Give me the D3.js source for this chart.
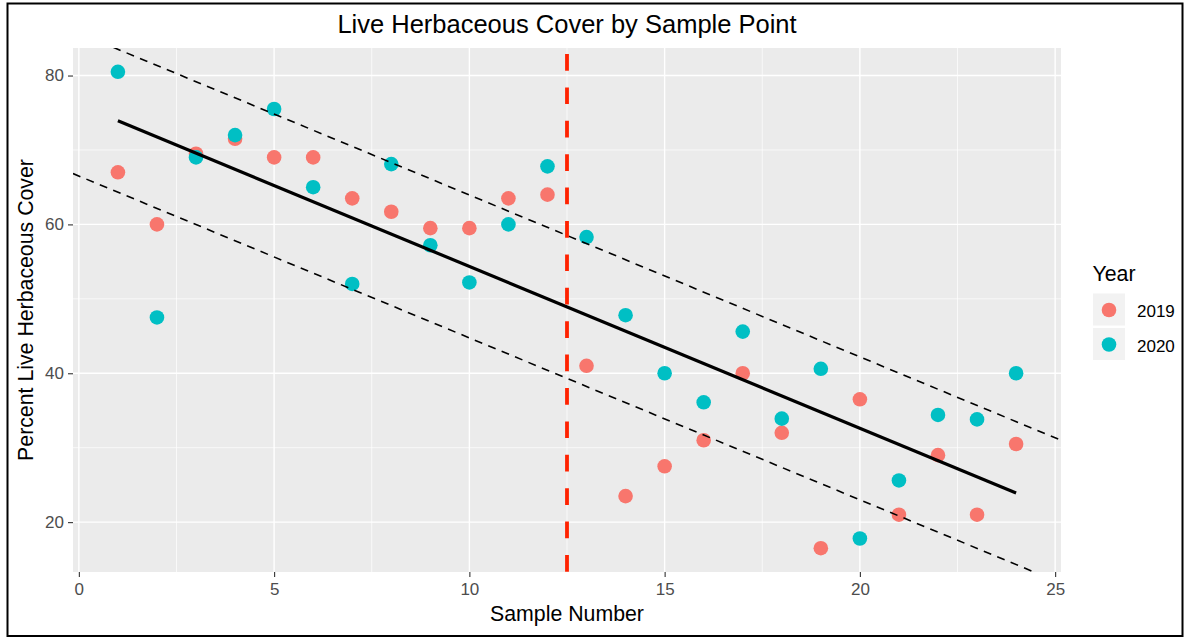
<!DOCTYPE html>
<html>
<head>
<meta charset="utf-8">
<script src="https://cdn.jsdelivr.net/npm/d3@7"></script>
<style>
  html, body { margin: 0; padding: 0; background: #fff; }
  svg { display: block; font-family: "Liberation Sans", Arial, Helvetica, sans-serif; }
</style>
</head>
<body>
<svg id="chart" width="1184" height="638"></svg>
<script>
// ---- data ----
const sampleNumbers = [1,2,3,4,5,6,7,8,9,10,11,12,13,14,15,16,17,18,19,20,21,22,23,24];
const cover2019 = [67,60,69.5,71.5,69,69,63.5,61.7,59.5,59.5,63.5,64,41,23.5,27.5,31,40,32,16.5,36.5,21,29,21,30.5];
const cover2020 = [80.5,47.5,69,72,75.5,65,52,68.1,57.2,52.2,60,67.8,58.3,47.8,40,36.1,45.6,33.9,40.6,17.8,25.6,34.4,33.8,40];
const years = ["2019", "2020"];
const xTicks = [0, 5, 10, 15, 20, 25];
const yTicks = [20, 40, 60, 80];
const xMinor = [2.5, 7.5, 12.5, 17.5, 22.5];
const yMinor = [30, 50, 70];
const bandOffset = 9.6;      // offset of the dashed band lines from the fit
const breakPoint = 12.5;     // red vertical reference line

const titleText = "Live Herbaceous Cover by Sample Point";
const xTitle = "Sample Number";
const yTitle = "Percent Live Herbaceous Cover";
const legendTitle = "Year";
const colors = ["#F8766D", "#00BFC4"];

// ---- layout ----
const panel = { left: 73, right: 1061, top: 48, bottom: 572 };
const svg = d3.select("#chart");

// long-format points
const points = [];
years.forEach((yr, i) => {
  const vals = i === 0 ? cover2019 : cover2020;
  sampleNumbers.forEach((s, j) => points.push({ x: s, y: vals[j], year: yr }));
});

// scales with ggplot-like 5% expansion
const xExt = d3.extent(sampleNumbers);
const yExt = d3.extent(points, d => d.y);
const xPad = (xExt[1] - xExt[0]) * 0.05, yPad = (yExt[1] - yExt[0]) * 0.05;
const x = d3.scaleLinear().domain([xExt[0] - xPad, xExt[1] + xPad]).range([panel.left, panel.right]);
const y = d3.scaleLinear().domain([yExt[0] - yPad, yExt[1] + yPad]).range([panel.bottom, panel.top]);
const color = d3.scaleOrdinal().domain(years).range(colors);

// least squares fit (geom_smooth method = "lm")
const mx = d3.mean(points, d => d.x), my = d3.mean(points, d => d.y);
const sxy = d3.sum(points, d => (d.x - mx) * (d.y - my));
const sxx = d3.sum(points, d => (d.x - mx) ** 2);
const slope = sxy / sxx;
const intercept = my - slope * mx;

// outer frame
svg.append("rect").attr("x", 7.5).attr("y", 3.5).attr("width", 1175).attr("height", 632.5)
  .attr("fill", "#fff").attr("stroke", "#000").attr("stroke-width", 2);

// panel background
svg.append("rect").attr("x", panel.left).attr("y", panel.top)
  .attr("width", panel.right - panel.left).attr("height", panel.bottom - panel.top)
  .attr("fill", "#EBEBEB");

svg.append("clipPath").attr("id", "pclip").append("rect")
  .attr("x", panel.left).attr("y", panel.top)
  .attr("width", panel.right - panel.left).attr("height", panel.bottom - panel.top);

const grid = svg.append("g");
grid.selectAll(".xm").data(xMinor).join("line")
  .attr("x1", d => x(d)).attr("x2", d => x(d)).attr("y1", panel.top).attr("y2", panel.bottom)
  .attr("stroke", "#fff").attr("stroke-width", 0.7);
grid.selectAll(".ym").data(yMinor).join("line")
  .attr("y1", d => y(d)).attr("y2", d => y(d)).attr("x1", panel.left).attr("x2", panel.right)
  .attr("stroke", "#fff").attr("stroke-width", 0.7);
grid.selectAll(".xM").data(xTicks).join("line")
  .attr("x1", d => x(d)).attr("x2", d => x(d)).attr("y1", panel.top).attr("y2", panel.bottom)
  .attr("stroke", "#fff").attr("stroke-width", 1.4);
grid.selectAll(".yM").data(yTicks).join("line")
  .attr("y1", d => y(d)).attr("y2", d => y(d)).attr("x1", panel.left).attr("x2", panel.right)
  .attr("stroke", "#fff").attr("stroke-width", 1.4);

// axes
const xAxis = svg.append("g").attr("transform", `translate(0,${panel.bottom})`)
  .call(d3.axisBottom(x).tickValues(xTicks).tickSize(5).tickPadding(6).tickFormat(d3.format("d")));
const yAxis = svg.append("g").attr("transform", `translate(${panel.left},0)`)
  .call(d3.axisLeft(y).tickValues(yTicks).tickSize(5).tickPadding(4).tickFormat(d3.format("d")));
[xAxis, yAxis].forEach(a => {
  a.select(".domain").remove();
  a.selectAll(".tick line").attr("stroke", "#333").attr("stroke-width", 1.1);
  a.selectAll(".tick text").attr("fill", "#4D4D4D").style("font-size", "17px")
    .style("font-family", "'Liberation Sans', Arial, sans-serif");
});

// points
const plot = svg.append("g").attr("clip-path", "url(#pclip)");
plot.selectAll("circle").data(points).join("circle")
  .attr("cx", d => x(d.x)).attr("cy", d => y(d.y)).attr("r", 7.3)
  .attr("fill", d => color(d.year));

// fit line
const fitLine = d3.line().x(d => x(d)).y(d => y(intercept + slope * d));
plot.append("path").datum(xExt).attr("d", fitLine)
  .attr("fill", "none").attr("stroke", "#000").attr("stroke-width", 3.2);

// dashed band lines (full panel width)
const xDom = x.domain();
[bandOffset, -bandOffset].forEach(off => {
  const bl = d3.line().x(d => x(d)).y(d => y(intercept + off + slope * d));
  plot.append("path").datum(xDom).attr("d", bl)
    .attr("fill", "none").attr("stroke", "#000").attr("stroke-width", 1.6)
    .attr("stroke-dasharray", "8,6.5");
});

// red vertical line
plot.append("line")
  .attr("x1", x(breakPoint)).attr("x2", x(breakPoint))
  .attr("y1", panel.top + 6).attr("y2", panel.bottom)
  .attr("stroke", "#FF2200").attr("stroke-width", 3.8).attr("stroke-dasharray", "16.7,16.7");

// titles
svg.append("text").attr("x", (panel.left + panel.right) / 2).attr("y", 32.5)
  .attr("text-anchor", "middle").style("font-size", "25.5px").attr("fill", "#000").text(titleText);
svg.append("text").attr("x", (panel.left + panel.right) / 2).attr("y", 621)
  .attr("text-anchor", "middle").style("font-size", "21.3px").attr("fill", "#000").text(xTitle);
svg.append("text").attr("transform", `translate(33,${(panel.top + panel.bottom) / 2}) rotate(-90)`)
  .attr("text-anchor", "middle").style("font-size", "21.3px").attr("fill", "#000").text(yTitle);

// legend
const lg = svg.append("g");
lg.append("text").attr("x", 1092.5).attr("y", 281).style("font-size", "21.3px").attr("fill", "#000").text(legendTitle);
const keys = lg.selectAll(".key").data(years).join("g")
  .attr("transform", (d, i) => `translate(1093,${293.5 + i * 34.5})`);
keys.append("rect").attr("width", 32).attr("height", 32).attr("fill", "#F2F2F2");
keys.append("circle").attr("cx", 16).attr("cy", 16.5).attr("r", 7.3).attr("fill", d => color(d));
keys.append("text").attr("x", 44).attr("y", 23.5).style("font-size", "17px").attr("fill", "#000").text(d => d);
</script>
</body>
</html>
